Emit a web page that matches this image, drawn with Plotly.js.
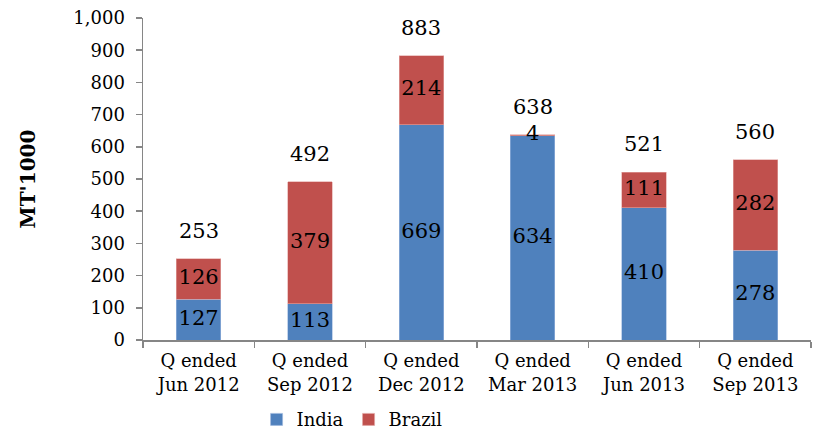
<!DOCTYPE html>
<html>
<head>
<meta charset="utf-8">
<script src="https://cdn.plot.ly/plotly-3.0.1.min.js"></script>
<style>html,body{margin:0;padding:0;background:#fff}#chart{width:817px;height:433px}</style>
</head>
<body>
<div id="chart"></div>
<script>
const categories = ["Q ended<br>Jun 2012", "Q ended<br>Sep 2012", "Q ended<br>Dec 2012", "Q ended<br>Mar 2013", "Q ended<br>Jun 2013", "Q ended<br>Sep 2013"];
const india = [127, 113, 669, 634, 410, 278];
const brazil = [126, 379, 214, 4, 111, 282];
const totals = [253, 492, 883, 638, 521, 560];
const yTickVals = [0, 100, 200, 300, 400, 500, 600, 700, 800, 900, 1000];
const yTickText = ["0", "100", "200", "300", "400", "500", "600", "700", "800", "900", "1,000"];

const FONT = "DejaVu Serif";
const indiaMid = india.map(v => v / 2);
const brazilMid = india.map((v, i) => v + brazil[i] / 2);

const traces = [
  {type: "bar", name: "India", x: categories, y: india, marker: {color: "#4F81BD", line: {color: "#9DB7DD", width: 0.6}}, hoverinfo: "skip"},
  {type: "bar", name: "Brazil", x: categories, y: brazil, marker: {color: "#C0504D", line: {color: "#E3A5A3", width: 0.6}}, hoverinfo: "skip"},
  {type: "scatter", mode: "text", x: categories, y: indiaMid, text: india.map(String), textposition: "middle center", textfont: {family: FONT, size: 21, color: "#000"}, showlegend: false, hoverinfo: "skip", cliponaxis: false},
  {type: "scatter", mode: "text", x: categories, y: brazilMid, text: brazil.map(String), textposition: "middle center", textfont: {family: FONT, size: 21, color: "#000"}, showlegend: false, hoverinfo: "skip", cliponaxis: false}
];

const annotations = totals.map((t, i) => ({
  x: categories[i], y: t, xref: "x", yref: "y", text: String(t), showarrow: false,
  yanchor: "bottom", yshift: 14, font: {family: FONT, size: 21, color: "#000"}
}));

const layout = {
  width: 817, height: 433,
  margin: {l: 143, r: 6, t: 18, b: 93, autoexpand: false},
  paper_bgcolor: "#fff", plot_bgcolor: "#fff",
  barmode: "stack", bargap: 0.6,
  font: {family: FONT, size: 18, color: "#000"},
  xaxis: {
    type: "category", showgrid: false, zeroline: false, automargin: false,
    showline: true, linecolor: "#868686", linewidth: 1.5,
    ticks: "outside", tickson: "boundaries", ticklen: 6, tickcolor: "#868686", tickwidth: 1.5,
    ticklabelstandoff: 4,
    tickfont: {family: FONT, size: 18, color: "#000"}
  },
  yaxis: {
    range: [0, 1000], showgrid: false, zeroline: false, automargin: false,
    showline: true, linecolor: "#868686", linewidth: 1.5,
    ticks: "outside", ticklen: 6, tickcolor: "#868686", tickwidth: 1.5,
    ticklabelstandoff: 7,
    tickvals: yTickVals, ticktext: yTickText,
    tickfont: {family: FONT, size: 18, color: "#000"},
    title: {text: "<b>MT'1000</b>", font: {family: FONT, size: 20, color: "#000"}, standoff: 32}
  },
  legend: {orientation: "h", x: 0.313, xanchor: "center", y: -0.19, yanchor: "top", font: {family: FONT, size: 18, color: "#000"}, itemwidth: 30, traceorder: "normal"},
  annotations: annotations,
  showlegend: true
};

Plotly.newPlot("chart", traces, layout, {displayModeBar: false, staticPlot: true});
</script>
</body>
</html>
